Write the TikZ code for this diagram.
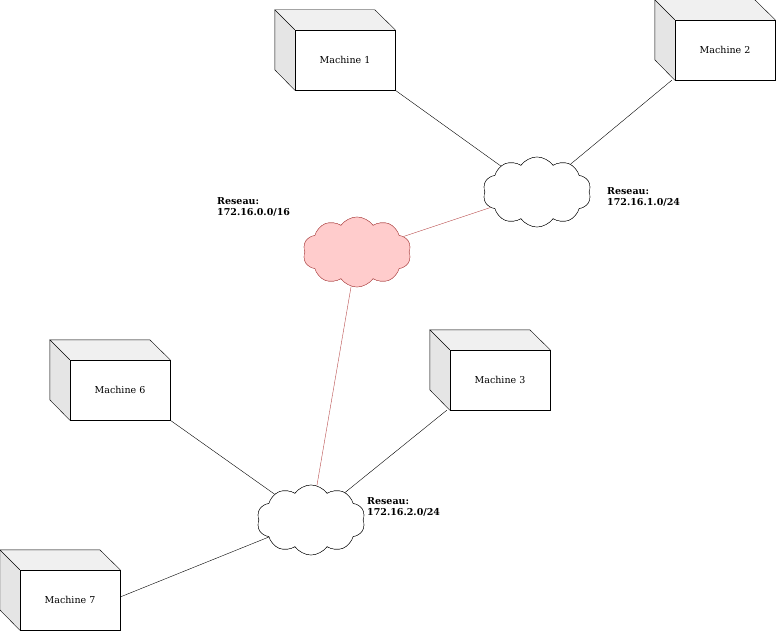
\documentclass[tikz,border=0pt]{standalone}
\usepackage{fontspec}
\setmainfont{DejaVu Serif}
\usetikzlibrary{shapes.symbols}
\begin{document}
\begin{tikzpicture}[x=1pt,y=-1pt,
  front/.style={draw,fill=white,minimum width=100pt,minimum height=60pt,inner sep=0pt,font=\fontsize{9.5}{11}\selectfont},
  cl/.style={cloud,cloud puffs=10,cloud puff arc=110,aspect=1.6,draw,fill=white,minimum width=108pt,minimum height=70pt,inner sep=0pt},
  lbl/.style={font=\bfseries\fontsize{9.5}{11}\selectfont,align=left,anchor=north west,inner sep=0pt},
  link/.style={draw=black},
  red/.style={draw=red!60!black!70}]
\useasboundingbox (0,0) rectangle (776,631);
\newcommand\mymachine[4]{%
  \node[front] (#1) at (#2+50,#3+30) {#4};
  \fill[gray!12] (#1.north west) -- ++(-20,-20) -- ++(100,0) -- (#1.north east) -- cycle;
  \fill[gray!20] (#1.north west) -- ++(-20,-20) -- ++(0,60) -- (#1.south west) -- cycle;
  \draw (#1.north west) -- ++(-20,-20) -- ++(100,0) -- (#1.north east);
  \draw (#1.north west) ++(-20,-20) -- ++(0,60) -- (#1.south west);
  \draw (#1.north west) rectangle (#1.south east);}
\mymachine{m1}{295}{30}{Machine 1}
\mymachine{m2}{675}{20}{Machine 2}
\mymachine{m3}{450}{350}{Machine 3}
\mymachine{m6}{70}{360}{Machine 6}
\mymachine{m7}{20}{570}{Machine 7}
\node[cl] (c1) at (537,192) {};
\node[cl,fill=red!20,draw=red!55!black!70] (c0) at (357,252) {};
\node[cl] (c2) at (311,520) {};
\draw[link] (m1.south east) -- (c1);
\draw[link] (m2.south west) ++(-3,0) coordinate (m2a) -- (c1);
\draw[red] (c0) -- (c1);
\draw[red] (c0) -- (c2);
\draw[link] (m3.south west) ++(-3,0) coordinate (m3a) -- (c2);
\draw[link] (m6.south east) -- (c2);
\draw[link] (m7.east) ++(0,-3) coordinate (m7a) -- (c2);
\node[cl] at (c1) {};
\node[cl,fill=red!20,draw=red!55!black!70] at (c0) {};
\node[cl] at (c2) {};
\node[lbl] (l1) at (607,187) {Reseau:\\172.16.1.0/24};
\node[lbl] (l0) at (217,197) {Reseau:\\172.16.0.0/16};
\node[lbl] (l2) at (367,497) {Reseau:\\172.16.2.0/24};
\end{tikzpicture}
\end{document}
